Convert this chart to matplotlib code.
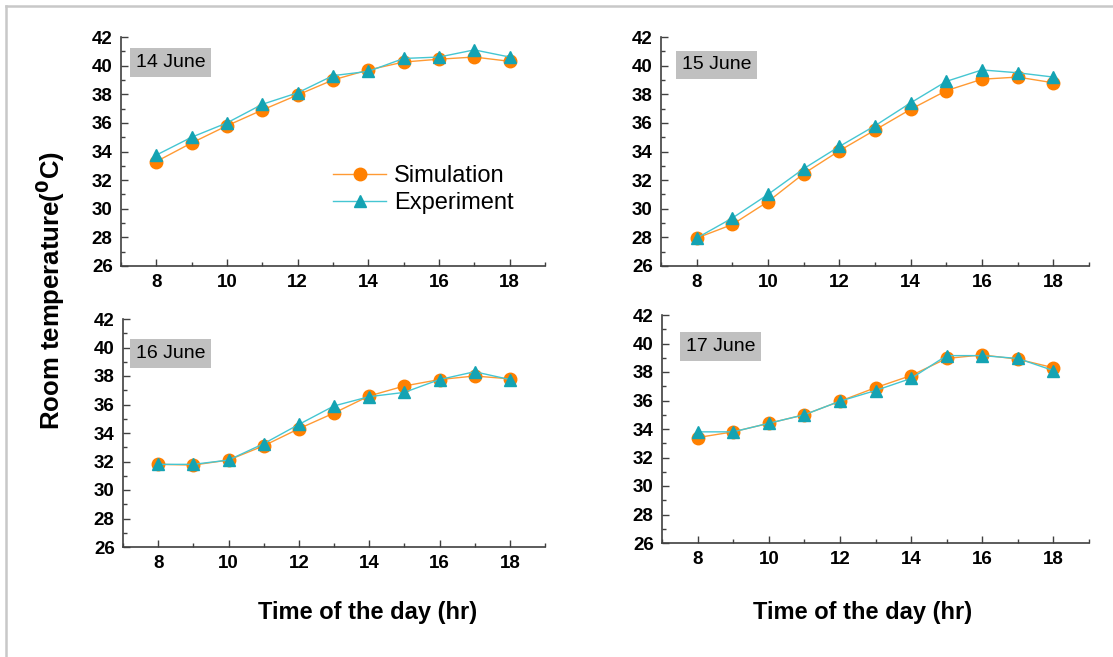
import numpy as np
import matplotlib
matplotlib.use("Agg")
import matplotlib.pyplot as plt
from matplotlib.lines import Line2D
from matplotlib.ticker import MultipleLocator

plt.rcParams['font.family'] = ['Liberation Sans', 'DejaVu Sans']

# --- data ---
hours = [8, 9, 10, 11, 12, 13, 14, 15, 16, 17, 18]
days = ['14 June', '15 June', '16 June', '17 June']

sim_14 = [33.3, 34.6, 35.8, 36.9, 37.95, 39.0, 39.7, 40.25, 40.45, 40.6, 40.3]
exp_14 = [33.75, 35.0, 36.0, 37.3, 38.1, 39.3, 39.6, 40.5, 40.6, 41.1, 40.6]

sim_15 = [27.95, 28.9, 30.5, 32.45, 34.05, 35.5, 36.95, 38.25, 39.05, 39.2, 38.8]
exp_15 = [27.95, 29.35, 31.0, 32.8, 34.35, 35.8, 37.4, 38.9, 39.7, 39.5, 39.2]

sim_16 = [31.8, 31.75, 32.1, 33.1, 34.3, 35.4, 36.6, 37.3, 37.75, 38.0, 37.8]
exp_16 = [31.8, 31.8, 32.1, 33.25, 34.6, 35.9, 36.55, 36.85, 37.75, 38.3, 37.75]

sim_17 = [33.4, 33.8, 34.4, 35.0, 35.95, 36.9, 37.75, 38.95, 39.2, 38.9, 38.3]
exp_17 = [33.8, 33.8, 34.4, 35.0, 35.95, 36.7, 37.55, 39.15, 39.15, 38.95, 38.1]

sim_all = [sim_14, sim_15, sim_16, sim_17]
exp_all = [exp_14, exp_15, exp_16, exp_17]

# --- layout (figure fractions) ---
W, H = 1113, 657
boxes = [(121, 545, 37, 266), (661, 1089, 37, 266),
         (123, 545, 319, 547), (662, 1089, 315, 543)]
tag_pos = [(0.035, 0.888), (0.049, 0.878), (0.031, 0.85), (0.056, 0.862)]

fig = plt.figure(figsize=(W / 100, H / 100), dpi=100)

ORANGE = '#FF8000'
ORANGE_L = '#FF9A33'
TEAL = '#14A3B3'
TEAL_L = '#45C6D2'
SPINE = '#404040'

axes = []
for i, (x0, x1, y0, y1) in enumerate(boxes):
    ax = fig.add_axes([x0 / W, 1 - y1 / H, (x1 - x0) / W, (y1 - y0) / H])
    ax.plot(hours, sim_all[i], color=ORANGE_L, lw=1.0, marker='o', ms=9,
            mfc=ORANGE, mec=ORANGE, label='Simulation')
    ax.plot(hours, exp_all[i], color=TEAL_L, lw=1.0, marker='^', ms=9,
            mfc=TEAL, mec=TEAL, label='Experiment')
    ax.set_xlim(7, 19)
    ax.set_ylim(26, 42)
    ax.xaxis.set_major_locator(MultipleLocator(2))
    ax.xaxis.set_minor_locator(MultipleLocator(1))
    ax.yaxis.set_major_locator(MultipleLocator(2))
    ax.yaxis.set_minor_locator(MultipleLocator(1))
    for s in ['top', 'right']:
        ax.spines[s].set_visible(False)
    for s in ['left', 'bottom']:
        ax.spines[s].set_color(SPINE)
        ax.spines[s].set_linewidth(1.2)
    ax.tick_params(which='major', direction='in', length=5, width=1.0, color=SPINE,
                   labelsize=13.5, pad=6)
    ax.tick_params(which='minor', direction='in', length=3, width=1.0, color=SPINE)
    for lab in ax.get_xticklabels() + ax.get_yticklabels():
        lab.set_fontweight('bold')
    ax.text(tag_pos[i][0], tag_pos[i][1], days[i], transform=ax.transAxes,
            fontsize=14, va='center', ha='left',
            bbox=dict(boxstyle='square,pad=0.3', fc='#C0C0C0', ec='none'))
    axes.append(ax)

axes[0].legend(loc='upper left', bbox_to_anchor=(0.5, 0.44), frameon=False,
               fontsize=17, borderpad=0, handlelength=2.25, handletextpad=0.35,
               labelspacing=0.2, borderaxespad=0)

fig.text(50 / W, 1 - 291 / H, r'Room temperature($\mathbf{^0}$C)', rotation=90,
         fontsize=18.5, fontweight='bold', ha='center', va='center')
fig.text(368 / W, 1 - 612 / H, 'Time of the day (hr)', fontsize=17,
         fontweight='bold', ha='center', va='center')
fig.text(863 / W, 1 - 612 / H, 'Time of the day (hr)', fontsize=17,
         fontweight='bold', ha='center', va='center')

# light frame on the top and left edge
fig.add_artist(Line2D([6 / W, 6 / W], [0, 1 - 6 / H], color='#C8C8C8', lw=1.8))
fig.add_artist(Line2D([6 / W, 1], [1 - 6 / H, 1 - 6 / H], color='#C8C8C8', lw=1.8))

fig.savefig('out.png', dpi=100)
